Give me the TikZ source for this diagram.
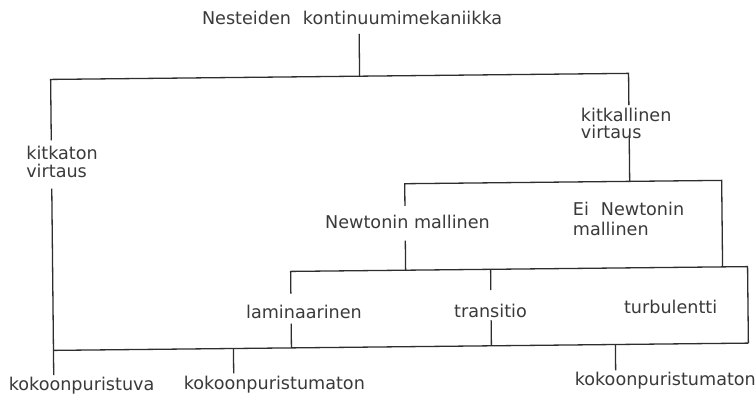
\documentclass[tikz,border=0pt]{standalone}
\usepackage{fontspec}
\setmainfont{DejaVu Sans}
\usetikzlibrary{calc}
\definecolor{ink}{HTML}{2E2E2E}
\definecolor{letter}{HTML}{3A3A3A}
\begin{document}
\begin{tikzpicture}[x=1pt,y=-1pt,
  line/.style={draw=ink, line width=1.3pt},
  lbl/.style={inner sep=0pt, outer sep=0pt, text=letter, align=left,
              font=\fontsize{17.6}{18}\selectfont},
]
\useasboundingbox[fill=white] (0,0) rectangle (756,404);
\begin{scope}[rotate around={0.6:(378,210)}]
  % labels
  \node[lbl, anchor=base west] (title) at (204,22.7)
    {Nesteiden\hspace{12pt}kontinuumimekaniikka};
  \node[lbl, anchor=north west] (kitkaton) at (27,142.1)
    {kitkaton\\virtaus};
  \node[lbl, anchor=north west, font=\fontsize{17.6}{17}\selectfont] (kitkallinen) at (582,110.4)
    {kitkallinen\\virtaus};
  \node[lbl, anchor=base west] (newton) at (325,228.3) {Newtonin mallinen};
  \node[lbl, anchor=north west, font=\fontsize{17.6}{20}\selectfont] (einewton) at (573,204.4)
    {Ei\hspace{12pt}Newtonin\\mallinen};
  \node[lbl, anchor=base west] (laminaari) at (245,317) {laminaarinen};
  \node[lbl, anchor=base west] (transitio) at (453,318) {transitio};
  \node[lbl, anchor=base west] (turbu) at (623,316.5) {turbulentti};
  \node[lbl, anchor=base west] (kpuristuva) at (7,387) {kokoonpuristuva};
  \node[lbl, anchor=base west] (kpmaton) at (182,387) {kokoonpuristumaton};
  \node[lbl, anchor=base west] (kpmatonb) at (573,388) {kokoonpuristumaton};

  % branch points
  \coordinate (j0) at (361,76);
  \coordinate (jL) at (52,76);
  \coordinate (jR) at (630,76);
  \coordinate (k1) at (405,184);
  \coordinate (k2) at (722,184);
  \coordinate (m1) at (290,270.5);
  \coordinate (m2) at (490,270.5);
  \coordinate (m3) at (747,270.5);
  \coordinate (b0) at (52,347);
  \coordinate (b1) at (232,347);
  \coordinate (b2) at (290,347);
  \coordinate (b3) at (490,347);
  \coordinate (b4) at (614,347);
  \coordinate (b5) at (747,347);

  % tree
  \draw[line] ($(title.base -| j0)+(0,9.3)$) -- (j0);
  \draw[line] ($(kitkaton.north -| jL)+(0,-5.5)$) -- (jL) -- (jR)
              -- ($(kitkallinen.north -| jR)+(0,-3)$);
  \draw[line] ($(kitkallinen.south -| jR)+(0,-2)$) -- (jR |- k1);
  \draw[line] ($(newton.base -| k1)+(0,-23)$) -- (k1) -- (k2) -- (k2 |- m1);
  \draw[line] ($(newton.base -| k1)+(0,11.7)$) -- (k1 |- m1);
  \draw[line] ($(laminaari.base -| m1)+(0,-25)$) -- (m1) -- (m3) -- (b5);
  \draw[line] ($(transitio.base -| m2)+(0,-27)$) -- (m2);
  \draw[line] ($(laminaari.base -| m1)+(0,5)$) -- (b2);
  \draw[line] ($(transitio.base -| m2)+(0,3.3)$) -- (b3);
  \draw[line] ($(kitkaton.south -| jL)+(0,11)$) -- (b0)
              -- ($(kpuristuva.base -| b0)+(0,-16)$);
  \draw[line] (b0) -- (b5);
  \draw[line] (b1) -- ($(kpmaton.base -| b1)+(0,-16)$);
  \draw[line] (b4) -- ($(kpmatonb.base -| b4)+(0,-16)$);
\end{scope}
\end{tikzpicture}
\end{document}
